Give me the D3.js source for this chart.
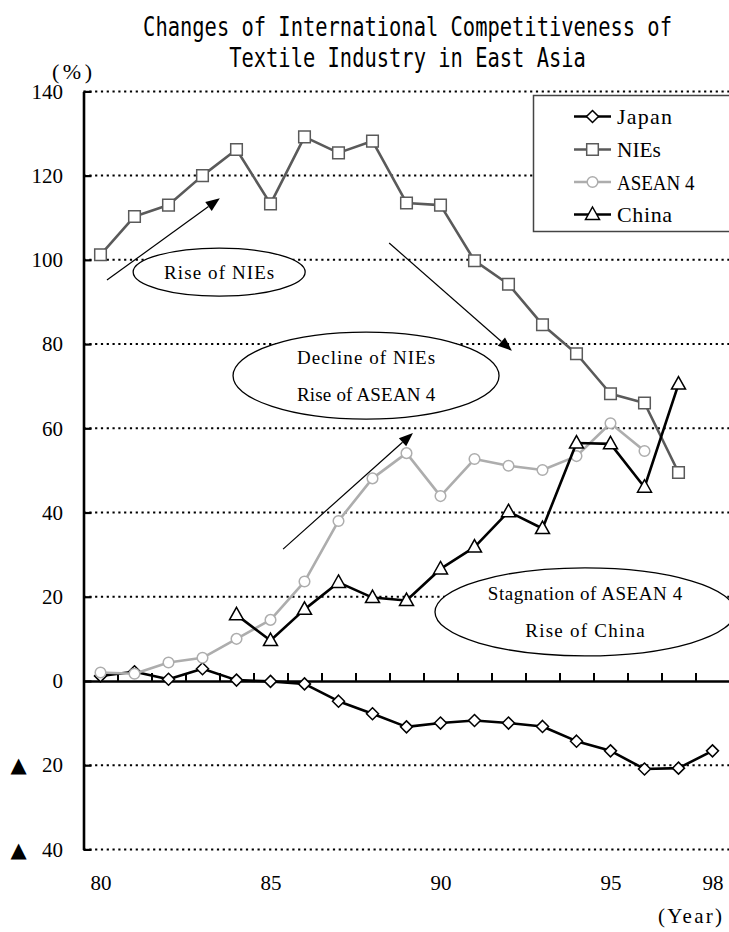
<!DOCTYPE html>
<html>
<head>
<meta charset="utf-8">
<script src="https://cdn.jsdelivr.net/npm/d3@7"></script>
<style>
  html, body { margin: 0; padding: 0; background: #fff; }
  svg { display: block; }
</style>
</head>
<body>
<svg id="chart" width="729" height="932"></svg>
<script>
// Fiscal years shown on the horizontal axis (19xx)
const years = [80, 81, 82, 83, 84, 85, 86, 87, 88, 89, 90, 91, 92, 93, 94, 95, 96, 97, 98];
const labelYears = [80, 85, 90, 95, 98];
const yTicks = [-40, -20, 0, 20, 40, 60, 80, 100, 120, 140];

// Competitiveness index (%) per region; null = no figure for that year
const japan = [1.2, 2.2, 0.4, 2.9, 0.2, -0.1, -0.7, -4.8, -7.8, -10.9, -10.0, -9.4, -10.0, -10.8, -14.3, -16.6, -20.9, -20.7, -16.6];
const nies  = [101.2, 110.3, 113.0, 120.0, 126.2, 113.3, 129.2, 125.4, 128.2, 113.5, 113.0, 99.8, 94.2, 84.6, 77.7, 68.2, 66.0, 49.5, null];
const asean = [2.0, 1.7, 4.4, 5.5, 10.0, 14.5, 23.6, 38.0, 48.1, 54.1, 43.9, 52.7, 51.1, 50.1, 53.4, 61.2, 54.6, null, null];
const china = [null, null, null, null, 15.7, 9.6, 17.0, 23.4, 19.8, 19.1, 26.6, 31.8, 40.2, 36.2, 56.5, 56.3, 46.0, 70.5, null];

const seriesNames = ["Japan", "NIEs", "ASEAN 4", "China"];

const svg = d3.select("#chart");
const SERIF = "'Liberation Serif', 'DejaVu Serif', serif";
const MONO = "'DejaVu Sans Mono', 'Liberation Mono', monospace";

// Spread or squeeze a text to a fixed-pitch width
function fitText(sel, target) {
  const natural = sel.node().getComputedTextLength();
  sel.attr("textLength", target)
     .attr("lengthAdjust", natural > target ? "spacingAndGlyphs" : "spacing");
  return sel;
}

// Scales: each year occupies one slot; points sit in the slot centre
const x = d3.scaleLinear().domain([79.5, 98.5]).range([83.5, 729.5]);
const y = d3.scaleLinear().domain([-40, 140]).range([849.4, 91.4]);

// Title: narrow fixed-pitch lettering
const titleSize = 27;
const squeeze = 12.3 / (0.602 * titleSize);
const title = svg.append("g").attr("font-family", MONO).attr("font-size", titleSize).attr("fill", "#000");
[["Changes of International Competitiveness of", 36], ["Textile Industry in East Asia", 67]].forEach(([t, by]) => {
  title.append("text")
    .attr("transform", `translate(407.5,${by}) scale(${squeeze},1)`)
    .attr("text-anchor", "middle")
    .text(t);
});

// Unit label
fitText(svg.append("text").attr("x", 52).attr("y", 79)
  .attr("font-family", SERIF).attr("font-size", 22).text("(%)"), 40);

// Dotted horizontal gridlines
svg.append("g").selectAll("line").data(yTicks.filter(d => d !== 0)).join("line")
  .attr("x1", x.range()[0]).attr("x2", 729)
  .attr("y1", d => y(d)).attr("y2", d => y(d))
  .attr("stroke", "#000").attr("stroke-width", 2)
  .attr("stroke-dasharray", "2.2,3.6");

// Zero line with year-slot ticks pointing up
const zeroAxis = svg.append("g").attr("transform", `translate(0,${y(0)})`)
  .call(d3.axisBottom(x)
    .tickValues(years.map(d => d + 0.5))
    .tickSize(-8).tickSizeOuter(0).tickFormat(""));
zeroAxis.select(".domain").attr("stroke", "#000").attr("stroke-width", 2.6);
zeroAxis.selectAll(".tick line").attr("stroke", "#000").attr("stroke-width", 2);

// Vertical axis
const yAxis = svg.append("g").attr("transform", `translate(${x.range()[0]},0)`)
  .call(d3.axisLeft(y).tickValues(yTicks).tickSize(-8).tickSizeOuter(0).tickPadding(20.5)
    .tickFormat(d => Math.abs(d)));
yAxis.select(".domain").attr("stroke", "#000").attr("stroke-width", 2.6);
yAxis.selectAll(".tick line").attr("stroke", "#000").attr("stroke-width", 2.2);
yAxis.selectAll(".tick text").attr("font-family", SERIF).attr("font-size", 21).attr("fill", "#000");
yAxis.selectAll(".tick").filter(d => d < 0).append("text")
  .attr("x", -65).attr("dy", "0.32em").attr("text-anchor", "middle")
  .attr("font-family", "'DejaVu Sans', sans-serif").attr("font-size", 21).attr("fill", "#000")
  .text("▲");

// Year labels under the plot
const xAxis = svg.append("g").attr("transform", `translate(0,${y(-40)})`)
  .call(d3.axisBottom(x).tickValues(labelYears).tickSize(0).tickPadding(26).tickFormat(d => d));
xAxis.select(".domain").remove();
xAxis.selectAll(".tick text").attr("font-family", SERIF).attr("font-size", 21).attr("fill", "#000");

fitText(svg.append("text").attr("x", 658).attr("y", 923)
  .attr("font-family", SERIF).attr("font-size", 21).text("(Year)"), 64);

// Callout ellipses (centre in data units, radii in px)
const callouts = [
  { cx: 83.49, cy: 97.1, rx: 86, ry: 24, lines: ["Rise of NIEs"] },
  { cx: 87.81, cy: 72.5, rx: 133, ry: 43.5, lines: ["Decline of NIEs", "Rise of ASEAN 4"] },
  { cx: 94.25, cy: 16.4, rx: 150, ry: 44, lines: ["Stagnation of ASEAN 4", "Rise of China"] }
];
const co = svg.append("g");
callouts.forEach(c => {
  const cx = x(c.cx), cy = y(c.cy);
  co.append("ellipse").attr("cx", cx).attr("cy", cy).attr("rx", c.rx).attr("ry", c.ry)
    .attr("fill", "#fff").attr("stroke", "#000").attr("stroke-width", 1.3);
  const n = c.lines.length;
  c.lines.forEach((t, i) => {
    const w = t.length * 9.35 - 2;
    fitText(co.append("text")
      .attr("x", cx - w / 2).attr("y", cy + (i - (n - 1) / 2) * 36.5)
      .attr("dy", "0.35em")
      .attr("font-family", SERIF).attr("font-size", 19)
      .text(t), w);
  });
});

// Trend arrows (data units)
const arrows = [
  { from: [80.19, 95.2], to: [83.51, 114.6] },
  { from: [88.49, 104.0], to: [92.1, 78.4] },
  { from: [85.37, 31.3], to: [89.19, 58.9] }
];
const ar = svg.append("g");
arrows.forEach(a => {
  const x1 = x(a.from[0]), y1 = y(a.from[1]), x2 = x(a.to[0]), y2 = y(a.to[1]);
  const ang = Math.atan2(y2 - y1, x2 - x1);
  const L = 14, W = 5.5;
  const bx = x2 - L * Math.cos(ang), by = y2 - L * Math.sin(ang);
  ar.append("line").attr("x1", x1).attr("y1", y1).attr("x2", bx).attr("y2", by)
    .attr("stroke", "#000").attr("stroke-width", 1.2);
  const px = -Math.sin(ang) * W, py = Math.cos(ang) * W;
  ar.append("path")
    .attr("d", `M${x2},${y2}L${bx + px},${by + py}L${bx - px},${by - py}Z`)
    .attr("fill", "#000");
});

// Marker shapes
const shapes = {
  diamond: "M0,-6L6,0L0,6L-6,0Z",
  square: "M-5.8,-5.8H5.8V5.8H-5.8Z",
  circle: "M5.3,0A5.3,5.3 0 1,1 -5.3,0A5.3,5.3 0 1,1 5.3,0Z",
  triangle: "M0,-7.5L7,5L-7,5Z"
};

const series = [
  { name: seriesNames[0], values: japan, color: "#000", stroke: "#000", shape: "diamond" },
  { name: seriesNames[1], values: nies, color: "#5a5a5a", stroke: "#5a5a5a", shape: "square" },
  { name: seriesNames[2], values: asean, color: "#adadad", stroke: "#adadad", shape: "circle" },
  { name: seriesNames[3], values: china, color: "#000", stroke: "#000", shape: "triangle" }
];

const line = d3.line()
  .defined(d => d.v != null)
  .x(d => x(d.year)).y(d => y(d.v));

series.forEach(s => {
  const pts = years.map((yr, i) => ({ year: yr, v: s.values[i] }));
  const g = svg.append("g");
  g.append("path").datum(pts).attr("d", line)
    .attr("fill", "none").attr("stroke", s.color).attr("stroke-width", 2.6)
    .attr("stroke-linejoin", "round");
  g.selectAll("path.mk").data(pts.filter(d => d.v != null)).join("path")
    .attr("class", "mk")
    .attr("d", shapes[s.shape])
    .attr("transform", d => `translate(${x(d.year)},${y(d.v)})`)
    .attr("fill", "#fff").attr("stroke", s.stroke).attr("stroke-width", 1.5);
});

// Legend
const lg = svg.append("g");
lg.append("rect").attr("x", 533.5).attr("y", 95.5).attr("width", 220).attr("height", 136)
  .attr("fill", "#fff").attr("stroke", "#444").attr("stroke-width", 1.5);
const rowY = [116.5, 149.5, 182, 214.5];
series.forEach((s, i) => {
  const ry = rowY[i];
  lg.append("line").attr("x1", 574).attr("x2", 611).attr("y1", ry).attr("y2", ry)
    .attr("stroke", s.color).attr("stroke-width", 2.6);
  lg.append("path").attr("d", shapes[s.shape]).attr("transform", `translate(592.5,${ry})`)
    .attr("fill", "#fff").attr("stroke", s.stroke).attr("stroke-width", 1.5);
  fitText(lg.append("text").attr("x", 617).attr("y", ry).attr("dy", "0.36em")
    .attr("font-family", SERIF).attr("font-size", 22)
    .text(s.name), s.name.length * 11.2 - 1);
});
</script>
</body>
</html>
